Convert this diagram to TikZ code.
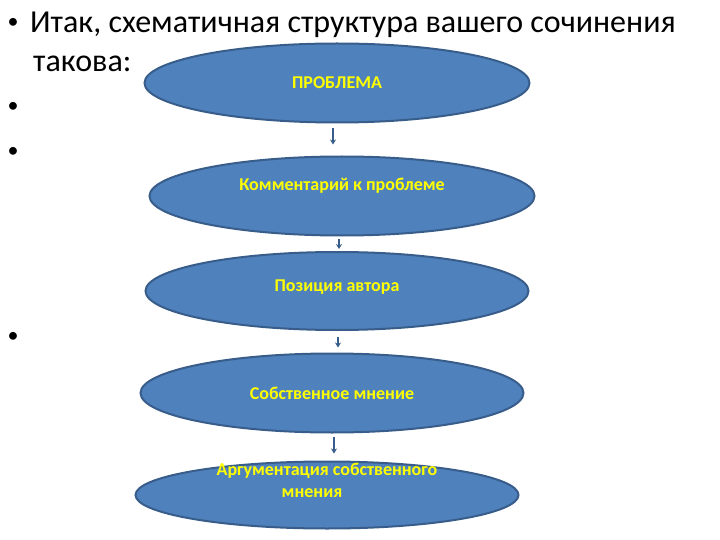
\documentclass[tikz,border=0pt]{standalone}
\usepackage{fontspec}
\setmainfont{Carlito}
\usetikzlibrary{shapes.geometric,arrows.meta}
\definecolor{ovalfill}{HTML}{4F81BD}
\definecolor{ovaldraw}{HTML}{385D8A}
\definecolor{ovaltext}{HTML}{FFFF00}
\newcommand{\lift}[2]{\raisebox{#1}[\height][\depth]{#2}}

\begin{document}
\begin{tikzpicture}[x=1pt,y=-1pt,
				oval/.style={ellipse,draw=ovaldraw,fill=ovalfill,line width=2pt,
					minimum width=385pt,minimum height=79pt,inner sep=0pt,
					text=ovaltext,font=\fontsize{18}{22}\selectfont\bfseries},
				arr/.style={-{Stealth[length=5pt,width=6pt]},draw=ovaldraw,line width=2.5pt},
				dot/.style={font=\fontsize{22}{22}\selectfont},
				head/.style={anchor=base west,inner sep=0pt,font=\fontsize{32}{39}\selectfont}]

			\useasboundingbox (0,0) rectangle (720,540);

			% title and bullets
			\node[dot] (b0) at (13,23) {•};
			\node[head] (title) at (30,33) {Итак, схематичная структура вашего сочинения};
			\node[head] (title2) at (33,72) {такова:};
			\node[dot] (b1) at (13,107) {•};
			\node[dot] (b2) at (13,152) {•};
			\node[dot] (b3) at (13,337) {•};

			\node[oval] (problem) at (337,83) {ПРОБЛЕМА};
			\node[oval] (comment) at (342,196) {\lift{10pt}{Комментарий к проблеме}};
			\node[oval,minimum width=383pt,minimum height=78pt] (position) at (337,291) {\lift{4pt}{Позиция автора}};
			\node[oval,minimum width=383pt] (opinion) at (332,393) {Собственное мнение};
			\node[oval,minimum width=383pt,minimum height=67pt] (argument) at (327,495)
				{\lift{13pt}{\begin{tabular}{@{}c@{}}Аргументация собственного\\ мнения\kern30pt\end{tabular}}};

			\draw[arr,shorten <=5pt,shorten >=11pt] ([xshift=-4pt]problem.south) -- ([xshift=-4pt]problem.south |- comment.north);
			\draw[arr,shorten <=2pt,shorten >=2pt] ([xshift=-3pt]comment.south) -- ([xshift=-3pt]comment.south |- position.north);
			\draw[arr,shorten <=6pt,shorten >=5pt] ([xshift=1pt]position.south) -- ([xshift=1pt]position.south |- opinion.north);
			\draw[arr,shorten <=3pt,shorten >=7pt] ([xshift=2pt]opinion.south) -- ([xshift=2pt]opinion.south |- argument.north);

		\end{tikzpicture}
\end{document}
